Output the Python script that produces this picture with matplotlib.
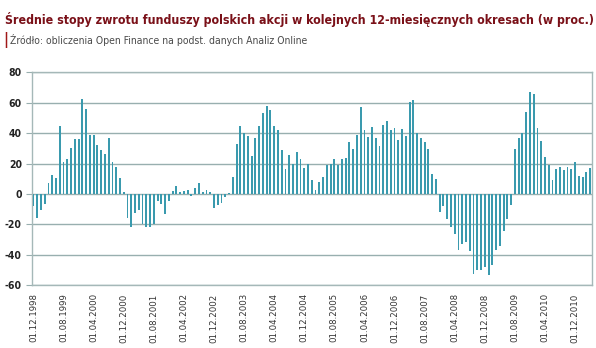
import matplotlib
matplotlib.use("Agg")
import matplotlib.pyplot as plt
import numpy as np

# monthly 12-month returns, from 12.1998
returns = [
    -7.7, -16, -10.5, -6.4, 7.2, 12.5, 10.7, 45, 21, 23,
    30.5, 36.4, 36.4, 62.5, 56, 39, 39, 32, 28.7, 26,
    37, 21, 17.8, 10.7, 1.5, -16, -21.7, -12.5, -10.5, -19.5,
    -21.7, -21.7, -20, -4.6, -6.8, -13.4, -4.4, 2, 5.5, 1,
    2, 2.4, -1.3, 4.2, 7.2, 1, 2.4, 1, -9, -7.2,
    -5.7, -1.8, 0.3, 11, 32.7, 44.5, 40, 38, 25, 37,
    45, 53, 58, 55.5, 45, 42, 29, 16.4, 25.6, 19.7,
    27.8, 23, 17, 19.7, 9.2, 2.6, 7.5, 11.4, 18.9, 19.7,
    22.8, 18.9, 22.8, 23.7, 34, 29.4, 38.8, 57.5, 41.9, 37.5,
    44.3, 36.8, 31.6, 45.6, 47.8, 41.9, 43.4, 35.3, 42.9, 38.4,
    60.3, 61.8, 40, 36.8, 34, 29.8, 12.9, 9.6, -11.6, -8.3,
    -16.7, -21.9, -26.5, -36.8, -33.1, -32, -37.5, -52.9, -50.4, -50.4,
    -48, -53.3, -46.9, -36.8, -34, -24.3, -16.7, -7.5, 29.8, 37,
    40.4, 54.2, 66.9, 65.6, 43.4, 34.6, 24.1, 18.9, 9, 16.2,
    17.8, 15.4, 17.8, 16.4, 21, 11.8, 11.4, 14.7, 16.9,
]

date_labels = [
    "01.12.1998", "01.08.1999", "01.04.2000", "01.12.2000", "01.08.2001",
    "01.04.2002", "01.12.2002", "01.08.2003", "01.04.2004", "01.12.2004",
    "01.08.2005", "01.04.2006", "01.12.2006", "01.08.2007", "01.04.2008",
    "01.12.2008", "01.08.2009", "01.04.2010", "01.12.2010",
]
label_step = 8

yticks = [-60, -40, -20, 0, 20, 40, 60, 80]

title = "Średnie stopy zwrotu funduszy polskich akcji w kolejnych 12-miesięcznych okresach (w proc.)"
source = "Źródło: obliczenia Open Finance na podst. danych Analiz Online"

plt.rcParams["font.family"] = ["DejaVu Sans"]
plt.rcParams["font.stretch"] = "condensed"

bar_color = "#3a9aae"
grid_color = "#98afaf"

fig = plt.figure(figsize=(5.96, 3.48), dpi=100)
ax = fig.add_axes([0.053, 0.181, 0.9403, 0.611])

x = np.arange(len(returns))
ax.bar(x, returns, width=0.5, color=bar_color, zorder=3)

ax.set_ylim(-60, 80)
ax.set_xlim(-0.5, len(returns) - 0.5)
ax.set_yticks(yticks)
ax.set_yticklabels([str(v) for v in yticks], fontsize=7.5, fontweight="bold", color="#222222")
ax.yaxis.grid(True, color=grid_color, linewidth=1.0, zorder=0)
ax.tick_params(axis="y", length=4, color=grid_color, pad=3)

ax.set_xticks(np.arange(len(date_labels)) * label_step)
ax.set_xticklabels(date_labels, rotation=90, fontsize=6.8, color="#333333")
ax.tick_params(axis="x", length=0, pad=6)

for s in ax.spines.values():
    s.set_color("#a5b8b8")
    s.set_linewidth(1.0)

t = fig.text(0.008, 0.945, title, fontsize=10, fontweight="bold", color="#7a1018",
             ha="left", va="center")
# shrink the title so it fits the width like in the original
r = fig.canvas.get_renderer()
w = t.get_window_extent(renderer=r).width
t.set_fontsize(10 * 585 / w)

fig.text(0.006, 0.885, "|", fontsize=11, fontweight="bold", color="#a01818",
         ha="left", va="center")
fig.text(0.017, 0.885, source, fontsize=7.5, color="#4a4a4a", ha="left", va="center")

fig.savefig("out.png", dpi=100, facecolor="white")
